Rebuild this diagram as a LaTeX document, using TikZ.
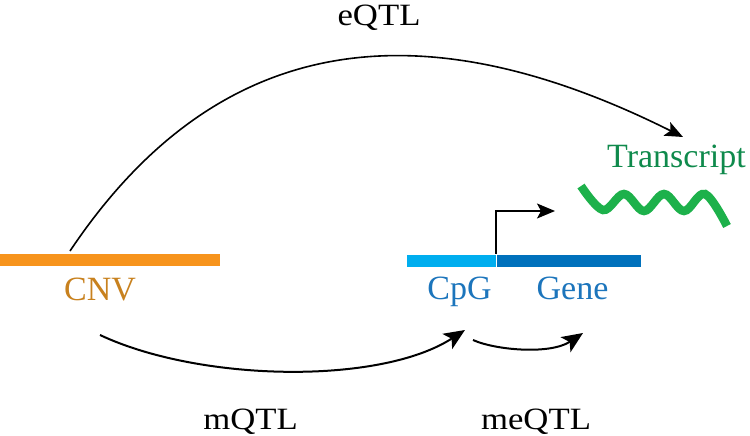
\documentclass[tikz,border=0pt]{standalone}
\usepackage{fontspec}
\setmainfont{Liberation Serif}
\newfontfamily\qtlfont[FakeStretch=1.12]{Liberation Serif}
\usetikzlibrary{arrows.meta}
\definecolor{cnvbar}{HTML}{F7941D}
\definecolor{cnvtext}{HTML}{C8811E}
\definecolor{cpgbar}{HTML}{00AEEF}
\definecolor{genebar}{HTML}{0071BC}
\definecolor{bluetext}{HTML}{1C75BC}
\definecolor{trtext}{HTML}{0F8A4C}
\definecolor{trwave}{HTML}{1DB14B}
\tikzset{
  bar/.style={draw=none, inner sep=0pt, minimum height=12pt},
  lbl/.style={font=\fontsize{34}{40}\selectfont, inner sep=0pt, anchor=base},
  qlbl/.style={font=\qtlfont\fontsize{31}{36}\selectfont, inner sep=0pt, anchor=base},
  qtl/.style={line width=2pt, -{Stealth[length=21pt,width=18pt,inset=5pt]}},
  prom/.style={line width=1.4pt, -{Stealth[length=18pt,width=15pt,inset=4pt]}}
}
\begin{document}
\begin{tikzpicture}[x=1pt,y=-1pt]
\useasboundingbox (0,0) rectangle (750,436);
% bars
\node[bar, fill=cnvbar, minimum width=220pt] (cnv) at (110,260) {};
\node[bar, fill=cpgbar, minimum width=89pt] (cpg) at (451.5,261) {};
\node[bar, fill=genebar, minimum width=144pt] (gene) at (569,261) {};
% labels
\node[lbl, text=cnvtext] (cnvl) at (100,300) {CNV};
\node[lbl, text=bluetext] (cpgl) at (459.5,299) {CpG};
\node[lbl, text=bluetext] (genel) at (572.5,299) {Gene};
\node[lbl, text=trtext, anchor=base west] (trl) at (607,167) {Transcript};
\node[qlbl] (eqtl) at (379,26) {eQTL};
\node[qlbl] (mqtl) at (250.5,429) {mQTL};
\node[qlbl] (meqtl) at (536,429) {meQTL};
% connector end points
\coordinate (eS) at (70,251);
\coordinate (eT) at (683,137);
\coordinate (mS) at (100,335);
\coordinate (mT) at (465,330);
\coordinate (meS) at (473,340);
\coordinate (meT) at (583,333);
\coordinate (pS) at (496,254);
\coordinate (pC) at (496,211);
\coordinate (pT) at (555,211);
% connectors
\draw[qtl, line width=1.6pt, -{Stealth[length=18pt,width=15pt,inset=4pt]}] (eS) .. controls (224,21) and (433,12) .. (eT);
\draw[qtl] (mS) .. controls (200,382) and (380,385) .. (mT);
\draw[qtl] (meS) .. controls (495,350) and (550,355) .. (meT);
\draw[prom] (pS) -- (pC) -- (pT);
% transcript wave
\draw[trwave, line width=8.5pt] plot[smooth, tension=0.6] coordinates {(581,186) (603,210) (624,194) (644,211) (664,194) (684,211) (705,194) (727,226)};
\end{tikzpicture}
\end{document}
